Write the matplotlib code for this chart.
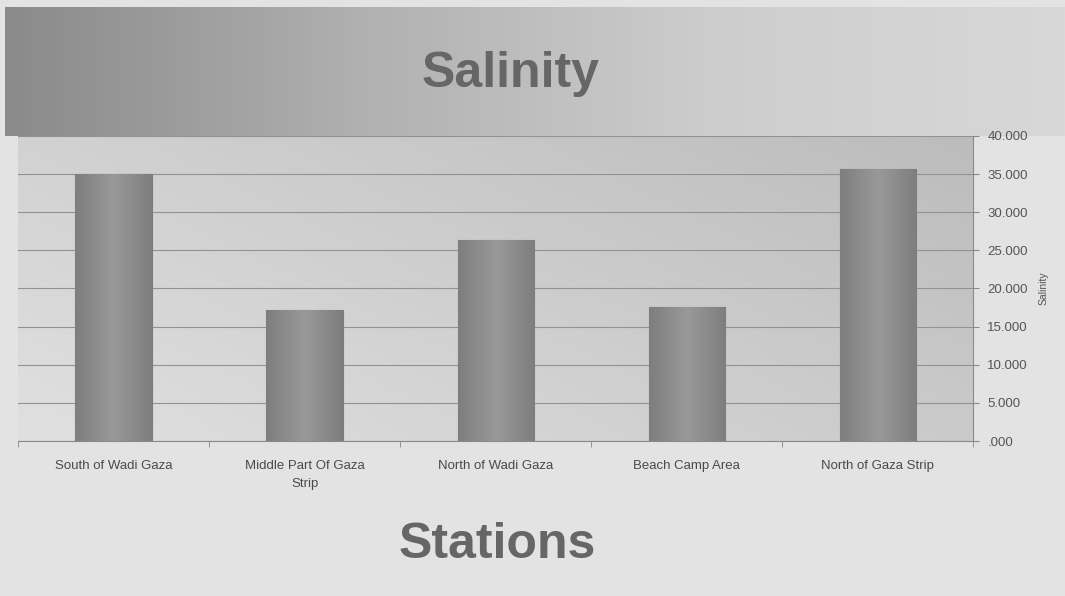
import numpy as np
from matplotlib import pyplot as plt
from matplotlib.colors import LinearSegmentedColormap

plt.rcParams['font.family'] = ['Liberation Sans', 'DejaVu Sans']

stations = ['South of Wadi Gaza', 'Middle Part Of Gaza\nStrip', 'North of Wadi Gaza',
            'Beach Camp Area', 'North of Gaza Strip']
salinity = [35.0, 17.2, 26.4, 17.6, 35.6]
yticks = [0, 5, 10, 15, 20, 25, 30, 35, 40]
ytick_labels = ['.000', '5.000', '10.000', '15.000', '20.000', '25.000', '30.000', '35.000', '40.000']

fig = plt.figure(figsize=(10.65, 5.96), dpi=100)
fig.patch.set_facecolor('#e3e3e3')

# background axes for the title band
bg = fig.add_axes([0, 0, 1, 1], zorder=0)
bg.set_xlim(0, 1)
bg.set_ylim(0, 1)
bg.axis('off')
band = np.tile(np.linspace(0, 1, 256), (2, 1))
band_cmap = LinearSegmentedColormap.from_list('band', ['#8a8a8a', '#b0b0b0', '#cdcdcd', '#d8d8d8'])
bg.imshow(band, cmap=band_cmap, aspect='auto', extent=[0.005, 1, 0.772, 0.987], zorder=0)

ax = fig.add_axes([0.017, 0.26, 0.897, 0.512], zorder=1)
x = np.arange(len(stations))

# gradient plot area
gx, gy = np.meshgrid(np.linspace(0, 1, 200), np.linspace(0, 1, 100))
area = 0.6 * gx + 0.4 * (1 - gy)
area_cmap = LinearSegmentedColormap.from_list('area', ['#e0e0e0', '#cecece', '#bcbcbc'])
ax.imshow(area, cmap=area_cmap, aspect='auto', extent=[0, 1, 0, 1],
          transform=ax.transAxes, zorder=0)

bars = ax.bar(x, salinity, width=0.4, color='#8a8a8a', edgecolor='#7a7a7a',
              linewidth=0.8, zorder=3)
bar_cmap = LinearSegmentedColormap.from_list('bar', ['#7e7e7e', '#999999', '#7e7e7e'])
for b in bars:
    grad = np.tile(np.linspace(0, 1, 100), (2, 1))
    im = ax.imshow(grad, cmap=bar_cmap, aspect='auto',
                   extent=[b.get_x(), b.get_x() + b.get_width(), 0, b.get_height()], zorder=3)
    im.set_clip_path(b)

ax.set_xlim(-0.5, len(stations) - 0.5)
ax.set_ylim(0, 40)
ax.set_yticks(yticks)
ax.set_yticklabels(ytick_labels)
ax.yaxis.tick_right()
ax.yaxis.set_label_position('right')
ax.set_ylabel('Salinity', fontsize=7.5, color='#555555', labelpad=8)
ax.grid(axis='y', color='#929292', linewidth=0.8, zorder=1)
ax.set_axisbelow(True)

ax.set_xticks(x)
ax.set_xticklabels(stations, fontsize=9.5, color='#4a4a4a', linespacing=1.6)
ax.set_xticks(np.arange(len(stations) + 1) - 0.5, minor=True)
ax.tick_params(axis='x', which='major', length=0, pad=14)
ax.tick_params(axis='x', which='minor', length=4, color='#888888')
ax.tick_params(axis='y', labelsize=9.5, labelcolor='#555555', length=4, color='#888888', pad=6)

for s in ['top', 'left']:
    ax.spines[s].set_visible(False)
ax.spines['bottom'].set_color('#8a8a8a')
ax.spines['right'].set_color('#8a8a8a')

fig.text(0.479, 0.876, 'Salinity', fontsize=36, fontweight='bold', color='#666666',
         ha='center', va='center')
fig.text(0.467, 0.086, 'Stations', fontsize=36, fontweight='bold', color='#666666',
         ha='center', va='center')

plt.savefig('out.png', dpi=100, facecolor=fig.get_facecolor())
